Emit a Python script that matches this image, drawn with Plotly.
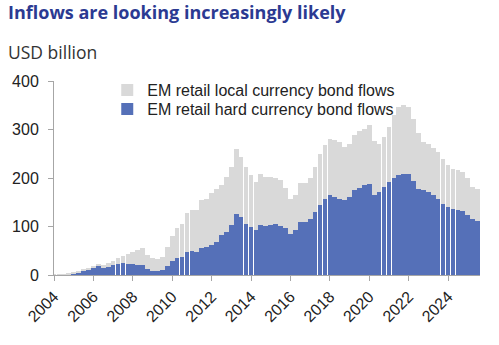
import plotly.graph_objects as go
import pandas as pd

# Quarterly readings, 2004 Q1 .. 2025 Q3 (USD billion)
quarters = pd.date_range("2004-01-01", periods=87, freq="QS").strftime("%Y-%m-%d").tolist()

hard_currency = [
    0.5, 0.5, 1, 2, 4, 6, 9, 12, 15, 18, 15, 17, 20, 23, 24, 23,
    22, 21, 20, 13, 9, 8, 11, 18, 29, 36, 38, 48, 50, 48, 55, 57,
    62, 69, 82, 89, 103, 125, 120, 105, 99, 93, 104, 102, 104, 106, 102, 96,
    85, 92, 110, 110, 115, 130, 144, 157, 164, 161, 157, 154, 160, 175, 180, 186,
    188, 164, 171, 182, 192, 201, 206, 209, 209, 194, 178, 175, 172, 164, 157, 147,
    140, 137, 134, 132, 123, 116, 111,
]
local_currency = [
    1.5, 1.5, 1, 1, 2, 2, 3, 3, 4, 5, 5, 7, 8, 12, 16, 21,
    25, 30, 35, 29, 26, 25, 26, 40, 51, 61, 68, 79, 84, 87, 100, 99,
    108, 109, 104, 113, 120, 135, 124, 118, 107, 99, 105, 101, 99, 95, 94, 84,
    72, 72, 80, 80, 85, 93, 106, 111, 117, 117, 117, 110, 110, 113, 116, 116,
    121, 113, 100, 103, 114, 129, 141, 141, 138, 128, 114, 100, 99, 97, 97, 93,
    86, 82, 82, 81, 76, 66, 67,
]

y_ticks = [0, 100, 200, 300, 400]

fig = go.Figure()
fig.add_trace(go.Bar(
    x=quarters, y=hard_currency, name="EM retail hard currency bond flows",
    marker=dict(color="#5570b8", line=dict(width=0)), legend="legend2",
))
fig.add_trace(go.Bar(
    x=quarters, y=local_currency, name="EM retail local currency bond flows",
    marker=dict(color="#d9d9d9", line=dict(width=0)), legend="legend",
))

leg_common = dict(xanchor="left", yanchor="middle", bgcolor="rgba(0,0,0,0)",
                  font=dict(size=16, color="#222222"), itemwidth=30)

fig.update_layout(
    barmode="stack", bargap=0.03,
    width=499, height=345,
    margin=dict(l=52, r=19, t=81, b=70),
    paper_bgcolor="white", plot_bgcolor="white",
    font=dict(family="Liberation Sans, Arial", color="#222222"),
    showlegend=True,
    legend=dict(x=0.125, y=1 - 9/194, **leg_common),
    legend2=dict(x=0.125, y=1 - 28/194, **leg_common),
    annotations=[
        dict(text="<b>Inflows are looking increasingly likely</b>", xref="paper", yref="paper",
             x=-48/428, y=1 + 69/194, xanchor="left", yanchor="middle", showarrow=False,
             font=dict(family="Open Sans", size=18, color="#2b3a92")),
        dict(text="USD billion", xref="paper", yref="paper",
             x=-48/428, y=1 + 29/194, xanchor="left", yanchor="middle", showarrow=False,
             font=dict(family="Open Sans", size=17.5, color="#333333")),
    ],
)
fig.update_xaxes(
    type="date", range=["2004-01-01", "2025-08-15"],
    tickformat="%Y", dtick="M24", tick0="2004-01-01", tickangle=-45,
    showline=True, linecolor="#a6a6a6", linewidth=1,
    ticks="outside", ticklen=5, tickcolor="#a6a6a6",
    showgrid=False, tickfont=dict(size=16, color="#222222"),
)
fig.update_yaxes(
    range=[0, 400], tickvals=y_ticks,
    showline=True, linecolor="#a6a6a6", linewidth=1,
    ticks="outside", ticklen=5, tickcolor="#a6a6a6", ticklabelstandoff=6,
    showgrid=False, zeroline=False, tickfont=dict(size=16, color="#222222"),
)

fig.write_html("out.html")
